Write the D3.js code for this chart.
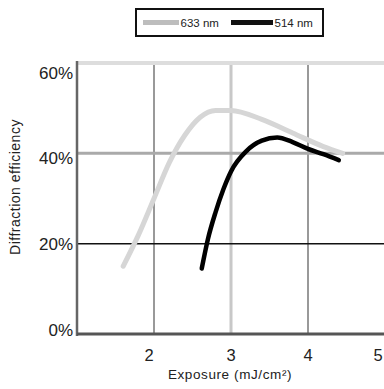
<!DOCTYPE html>
<html>
<head>
<meta charset="utf-8">
<script src="https://cdn.jsdelivr.net/npm/d3@7"></script>
<style>
  body { margin: 0; background: #fff; }
  svg { display: block; font-family: "Liberation Sans", Arial, sans-serif; }
</style>
</head>
<body>
<div id="chart"></div>
<script>
// Data
const exposure633 = [1.6, 1.8, 2.0, 2.2, 2.4, 2.6, 2.8, 3.0, 3.4, 3.8, 4.2, 4.45];
const eff633 = [15, 22, 30, 38, 44, 48, 49.5, 49.5, 47.5, 44.5, 41.5, 40];
const exposure514 = [2.62, 2.7, 2.8, 2.9, 3.0, 3.2, 3.4, 3.6, 3.8, 4.0, 4.2, 4.4];
const eff514 = [14.5, 21, 27, 32, 36, 40.5, 42.8, 43.5, 42.5, 41, 39.8, 38.5];
const xTicks = [2, 3, 4, 5];
const yTicks = [0, 20, 40, 60];
const seriesNames = ['633 nm', '514 nm'];

const width = 384, height = 389;
const svg = d3.select('#chart').append('svg')
  .attr('width', width)
  .attr('height', height);

const x = d3.scaleLinear().domain([1, 5]).range([77, 385]);
const y = d3.scaleLinear().domain([0, 60]).range([334, 63]);
// tick labels in the original sit on a slightly tighter spacing than the grid
const yLabel = d3.scaleLinear().domain([0, 60]).range([330, 72.5]);

// Vertical grid lines
const vStyle = {2: ['#999', 2], 3: ['#c8c8c8', 3], 4: ['#999', 2], 5: ['#e6e6e6', 2]};
svg.append('g')
  .selectAll('line')
  .data(xTicks)
  .join('line')
  .attr('x1', d => x(d)).attr('x2', d => x(d))
  .attr('y1', y(60)).attr('y2', y(0))
  .attr('stroke', d => vStyle[d][0])
  .attr('stroke-width', d => vStyle[d][1]);

// Horizontal grid lines
const hStyle = {20: ['#111', 1.5], 40: ['#aaa', 3], 60: ['#ddd', 4]};
svg.append('g')
  .selectAll('line')
  .data(yTicks.filter(d => d > 0))
  .join('line')
  .attr('x1', x(1)).attr('x2', width)
  .attr('y1', d => y(d)).attr('y2', d => y(d))
  .attr('stroke', d => hStyle[d][0])
  .attr('stroke-width', d => hStyle[d][1]);

// Axes frame (left + bottom)
svg.append('line')
  .attr('x1', x(1)).attr('x2', x(1))
  .attr('y1', y(60) - 2).attr('y2', y(0) + 2)
  .attr('stroke', '#666').attr('stroke-width', 2.5);
svg.append('line')
  .attr('x1', x(1)).attr('x2', width)
  .attr('y1', y(0)).attr('y2', y(0))
  .attr('stroke', '#555').attr('stroke-width', 3);

// Curves
const line = d3.line()
  .x(d => x(d[0]))
  .y(d => y(d[1]))
  .curve(d3.curveMonotoneX);

svg.append('path')
  .datum(d3.zip(exposure633, eff633))
  .attr('d', line)
  .attr('fill', 'none')
  .attr('stroke', '#d6d6d6')
  .attr('stroke-width', 5)
  .attr('stroke-linecap', 'round');

svg.append('path')
  .datum(d3.zip(exposure514, eff514))
  .attr('d', line)
  .attr('fill', 'none')
  .attr('stroke', '#000')
  .attr('stroke-width', 4.5)
  .attr('stroke-linecap', 'round');

// Tick labels
svg.append('g')
  .selectAll('text')
  .data(yTicks)
  .join('text')
  .attr('x', 73)
  .attr('y', d => yLabel(d) + 6)
  .attr('text-anchor', 'end')
  .attr('font-size', 17)
  .attr('fill', '#222')
  .text(d => d + '%');

svg.append('g')
  .selectAll('text')
  .data(xTicks)
  .join('text')
  .attr('x', d => x(d) - (d === 2 ? 5 : 0) - (d === 5 ? 7 : 0))
  .attr('y', 361)
  .attr('text-anchor', 'middle')
  .attr('font-size', 16.5)
  .attr('fill', '#222')
  .text(d => d);

// Axis titles
svg.append('text')
  .attr('x', 230).attr('y', 379)
  .attr('text-anchor', 'middle')
  .attr('font-size', 13.5)
  .attr('letter-spacing', 0.6)
  .attr('fill', '#222')
  .text('Exposure (mJ/cm²)');

svg.append('text')
  .attr('transform', 'translate(20,187) rotate(-90)')
  .attr('text-anchor', 'middle')
  .attr('font-size', 14)
  .attr('letter-spacing', 0.5)
  .attr('fill', '#222')
  .text('Diffraction efficiency');

// Legend
const legend = svg.append('g');
legend.append('rect')
  .attr('x', 136).attr('y', 9)
  .attr('width', 187).attr('height', 27)
  .attr('fill', '#fff')
  .attr('stroke', '#111').attr('stroke-width', 2);
const legendColors = ['#bdbdbd', '#111'];
const legendLine = [[143, 179], [231, 273]];
seriesNames.forEach((name, i) => {
  legend.append('line')
    .attr('x1', legendLine[i][0]).attr('x2', legendLine[i][1])
    .attr('y1', 22.5).attr('y2', 22.5)
    .attr('stroke', legendColors[i]).attr('stroke-width', 5);
  legend.append('text')
    .attr('x', legendLine[i][1] + 1.5).attr('y', 26.5)
    .attr('font-size', 11.5)
    .attr('fill', '#222')
    .text(name);
});
</script>
</body>
</html>
